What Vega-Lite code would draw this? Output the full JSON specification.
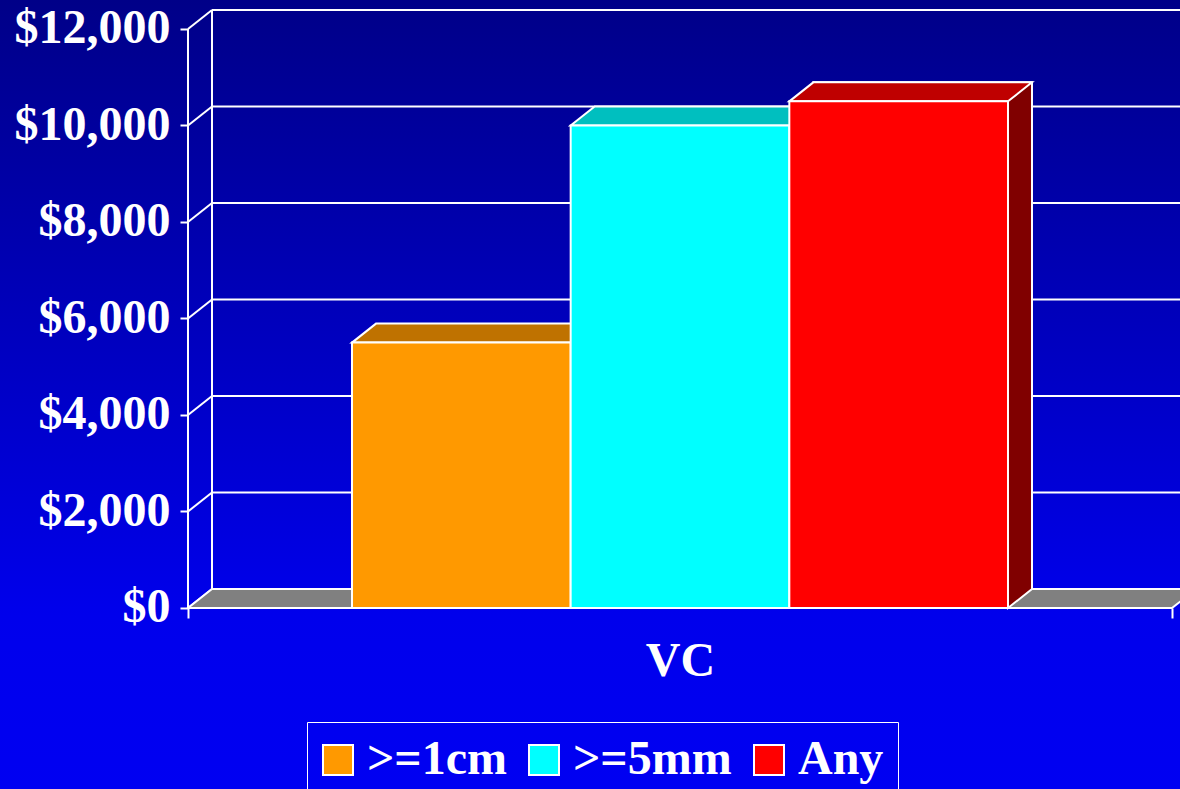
{
  "$schema": "https://vega.github.io/schema/vega-lite/v6.json",
  "width": 1180,
  "height": 789,
  "autosize": {"type": "none"},
  "padding": 0,
  "background": "#0000F0",
  "config": {
    "view": {
      "stroke": null,
      "fill": {
        "gradient": "linear",
        "x1": 0, "y1": 0, "x2": 0, "y2": 1,
        "stops": [
          {"offset": 0, "color": "#000088"},
          {"offset": 0.78, "color": "#0000EC"},
          {"offset": 1, "color": "#0000F2"}
        ]
      }
    }
  },
  "resolve": {"scale": {"xOffset": "independent"}},
  "datasets": {
    "bars": [
      {"group": "VC", "series": ">=1cm", "cost": 5500},
      {"group": "VC", "series": ">=5mm", "cost": 10000},
      {"group": "VC", "series": "Any", "cost": 10500}
    ],
    "ticks": [
      {"tick": 0}, {"tick": 2000}, {"tick": 4000}, {"tick": 6000},
      {"tick": 8000}, {"tick": 10000}, {"tick": 12000}
    ],
    "frame": [{"group": "VC"}]
  },
  "layer": [
    {
      "data": {"name": "ticks"},
      "mark": {"type": "rule", "color": "white", "strokeWidth": 2, "xOffset": 24, "x2Offset": 24, "yOffset": -19},
      "encoding": {
        "x": {"datum": "VC", "type": "nominal", "bandPosition": 0, "scale": {"type": "band", "domain": ["VC"], "paddingInner": 0, "paddingOuter": 0.099593, "align": 0.95918}},
        "x2": {"datum": "VC", "bandPosition": 1},
        "y": {"field": "tick", "type": "quantitative", "scale": {"domain": [-3751.3, 12601], "nice": false, "zero": false}}
      }
    },
    {
      "data": {"name": "ticks"},
      "mark": {"type": "rule", "color": "white", "strokeWidth": 2, "x2Offset": 24, "y2Offset": -19},
      "encoding": {
        "x": {"datum": "VC", "type": "nominal", "bandPosition": 0, "scale": {"type": "band"}},
        "x2": {"datum": "VC", "bandPosition": 0},
        "y": {"field": "tick", "type": "quantitative"},
        "y2": {"field": "tick"}
      }
    },
    {
      "data": {"name": "frame"},
      "mark": {"type": "rule", "color": "white", "strokeWidth": 2, "xOffset": 24, "yOffset": -19, "y2Offset": -19},
      "encoding": {
        "x": {"field": "group", "type": "nominal", "bandPosition": 0, "scale": {"type": "band"}},
        "y": {"datum": 0, "type": "quantitative"},
        "y2": {"datum": 12000}
      }
    },
    {
      "data": {"name": "frame"},
      "mark": {"type": "rule", "color": "white", "strokeWidth": 2},
      "encoding": {
        "x": {"field": "group", "type": "nominal", "bandPosition": 0, "scale": {"type": "band"}},
        "y": {"datum": 0, "type": "quantitative"},
        "y2": {"datum": 12000}
      }
    },
    {
      "data": {"name": "frame"},
      "mark": {"type": "point", "shape": "M-492,0 L492,0 L516,-19 L-468,-19 Z", "size": 4, "filled": true, "fill": "#808080", "stroke": "white", "strokeWidth": 2, "opacity": 1},
      "encoding": {
        "x": {"field": "group", "type": "nominal", "scale": {"type": "band"}},
        "y": {"datum": 0, "type": "quantitative"}
      }
    },
    {
      "data": {"name": "bars"},
      "transform": [{"filter": {"field": "series", "equal": "Any"}}],
      "mark": {"type": "bar", "fill": "#800000", "stroke": "white", "strokeWidth": 2, "yOffset": -19, "y2Offset": -19},
      "encoding": {
        "x": {"field": "group", "type": "nominal", "scale": {"type": "band"}},
        "xOffset": {"field": "series", "type": "nominal", "scale": {"type": "band", "domain": [">=1cm", ">=5mm", "Any"], "paddingInner": 0, "paddingOuter": 0.75, "align": 0.57317}},
        "y": {"field": "cost", "type": "quantitative"},
        "y2": {"datum": 0}
      }
    },
    {
      "data": {"name": "bars"},
      "transform": [{"filter": {"field": "series", "equal": "Any"}}],
      "mark": {"type": "point", "shape": "M109.33,-21 L109.33,0 L133.33,-19 L133.33,-21", "size": 4, "filled": true, "fill": "#800000", "stroke": "white", "strokeWidth": 2, "opacity": 1},
      "encoding": {
        "x": {"field": "group", "type": "nominal", "scale": {"type": "band"}},
        "xOffset": {"field": "series", "type": "nominal", "scale": {"type": "band", "domain": [">=1cm", ">=5mm", "Any"], "paddingInner": 0, "paddingOuter": 0.75}},
        "y": {"datum": 0, "type": "quantitative"}
      }
    },
    {
      "data": {"name": "bars"},
      "mark": {"type": "point", "shape": "M-109.33,0 L109.33,0 L133.33,-19 L-85.33,-19 Z", "size": 4, "filled": true, "strokeWidth": 0, "opacity": 1},
      "encoding": {
        "x": {"field": "group", "type": "nominal", "scale": {"type": "band"}},
        "xOffset": {"field": "series", "type": "nominal", "scale": {"type": "band", "domain": [">=1cm", ">=5mm", "Any"], "paddingInner": 0, "paddingOuter": 0.75}},
        "y": {"field": "cost", "type": "quantitative"},
        "color": {"field": "series", "type": "nominal", "scale": {"domain": [">=1cm", ">=5mm", "Any"], "range": ["#FF9900", "#00FFFF", "#FF0000"]}}
      }
    },
    {
      "data": {"name": "bars"},
      "mark": {"type": "point", "shape": "M-109.33,0 L109.33,0 L133.33,-19 L-85.33,-19 Z", "size": 4, "filled": true, "fill": "black", "fillOpacity": 0.25, "stroke": "white", "strokeWidth": 2, "strokeOpacity": 1},
      "encoding": {
        "x": {"field": "group", "type": "nominal", "scale": {"type": "band"}},
        "xOffset": {"field": "series", "type": "nominal", "scale": {"type": "band", "domain": [">=1cm", ">=5mm", "Any"], "paddingInner": 0, "paddingOuter": 0.75}},
        "y": {"field": "cost", "type": "quantitative"}
      }
    },
    {
      "data": {"name": "bars"},
      "mark": {"type": "bar", "stroke": "white", "strokeWidth": 2, "opacity": 1},
      "encoding": {
        "x": {
          "field": "group", "type": "nominal", "scale": {"type": "band"},
          "axis": {
            "orient": "bottom", "offset": -181, "title": null, "domain": false, "grid": false, "zindex": 1,
            "bandPosition": 0.5, "tickBand": "extent", "tickSize": 10, "tickColor": "white", "tickWidth": 2,
            "labelAngle": 0, "labelAlign": "center", "labelBaseline": "top",
            "labelFont": "Liberation Serif", "labelFontSize": 48, "labelFontWeight": "bold",
            "labelColor": "white", "labelPadding": 19
          }
        },
        "xOffset": {"field": "series", "type": "nominal", "scale": {"type": "band", "domain": [">=1cm", ">=5mm", "Any"], "paddingInner": 0, "paddingOuter": 0.75}},
        "y": {
          "field": "cost", "type": "quantitative",
          "axis": {
            "offset": -188, "title": null, "domain": false, "grid": false, "zindex": 1,
            "values": [0, 2000, 4000, 6000, 8000, 10000, 12000], "format": "$,d",
            "tickSize": 8, "tickColor": "white", "tickWidth": 2,
            "labelAlign": "right", "labelBaseline": "middle",
            "labelFont": "Liberation Serif", "labelFontSize": 48, "labelFontWeight": "bold",
            "labelColor": "white", "labelPadding": 10
          }
        },
        "color": {
          "field": "series", "type": "nominal",
          "scale": {"domain": [">=1cm", ">=5mm", "Any"], "range": ["#FF9900", "#00FFFF", "#FF0000"]},
          "legend": {
            "title": null, "orient": "none", "legendX": 307, "legendY": 722, "direction": "horizontal", "zindex": 1,
            "symbolType": "square", "symbolSize": 900, "symbolStrokeColor": "white", "symbolStrokeWidth": 2, "symbolOpacity": 1,
            "symbolOffset": -7, "labelOffset": 5,
            "labelFont": "Liberation Serif", "labelFontSize": 48, "labelFontWeight": "bold", "labelColor": "white",
            "columnPadding": 18, "padding": 14, "strokeColor": "white"
          }
        }
      }
    }
  ]
}
